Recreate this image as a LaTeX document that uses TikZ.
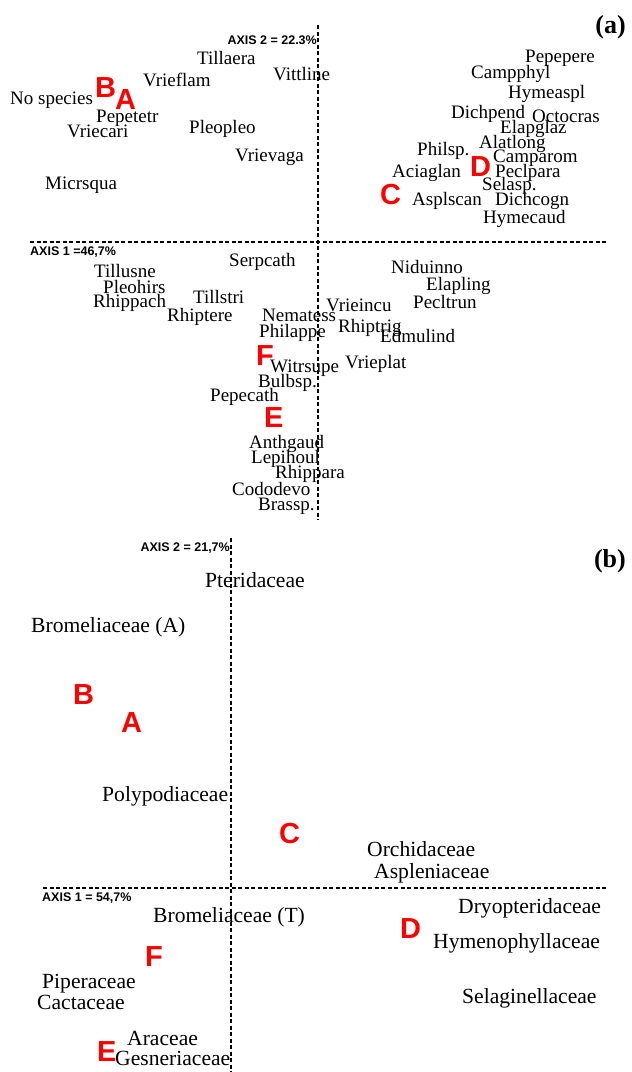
\documentclass[tikz,border=0pt]{standalone}
\usepackage{fontspec}
\setmainfont{Liberation Serif}
\setsansfont{Liberation Sans}
\begin{document}
\begin{tikzpicture}[x=1pt,y=-1pt,
  sp/.style={anchor=base west,inner sep=0pt,font=\fontsize{19}{19}\selectfont},
  fam/.style={anchor=base west,inner sep=0pt,font=\fontsize{21.6}{21.6}\selectfont},
  grp/.style={anchor=base west,inner sep=0pt,text=red,font=\sffamily\bfseries\fontsize{29}{29}\selectfont},
  axl/.style={inner sep=0pt,font=\sffamily\bfseries\fontsize{12.5}{12.5}\selectfont},
  axis/.style={draw=black,line width=1.3pt,dash pattern=on 4pt off 2.5pt},
  panel/.style={anchor=base east,inner sep=0pt,font=\bfseries\fontsize{26}{26}\selectfont}]
\useasboundingbox[fill=white] (0,0) rectangle (632,1072);
% ---------- panel (a) ----------
\coordinate (a1w) at (30,242);
\coordinate (a1e) at (608,242);
\coordinate (a2n) at (318,25);
\coordinate (a2s) at (318,520);
\draw[axis] (a1w) -- (a1e);
\draw[axis] (a2n) -- (a2s);
\node[axl,anchor=east] (ax2a) at (317,40) {AXIS 2 = 22.3\%};
\node[axl,anchor=west] (ax1a) at (30,252) {AXIS 1 =46,7\%};
\node[panel] (pa) at (626,33) {(a)};

\node[sp] (tillaera) at (197,64) {Tillaera};
\node[sp] (vittline) at (273,80) {Vittline};
\node[sp] (vrieflam) at (143,86) {Vrieflam};
\node[sp] (nosp) at (10,104) {No species};
\node[sp] (pepetetr) at (96,122) {Pepetetr};
\node[sp] (vriecari) at (67,137) {Vriecari};
\node[sp] (pleopleo) at (189,133) {Pleopleo};
\node[sp] (vrievaga) at (235,161) {Vrievaga};
\node[sp] (micrsqua) at (45,189) {Micrsqua};

\node[sp] (pepepere) at (525,62) {Pepepere};
\node[sp] (campphyl) at (471,78) {Campphyl};
\node[sp] (hymeaspl) at (508,98) {Hymeaspl};
\node[sp] (dichpend) at (451,118) {Dichpend};
\node[sp] (octocras) at (532,122) {Octocras};
\node[sp] (elapglaz) at (500,133) {Elapglaz};
\node[sp] (alatlong) at (479,148) {Alatlong};
\node[sp] (philsp) at (417,155) {Philsp.};
\node[sp] (camparom) at (493,162) {Camparom};
\node[sp] (aciaglan) at (392,177) {Aciaglan};
\node[sp] (peclpara) at (495,177) {Peclpara};
\node[sp] (selasp) at (482,190) {Selasp.};
\node[sp] (asplscan) at (412,205) {Asplscan};
\node[sp] (dichcogn) at (495,205) {Dichcogn};
\node[sp] (hymecaud) at (483,223) {Hymecaud};

\node[sp] (serpcath) at (229,266) {Serpcath};
\node[sp] (tillusne) at (94,277) {Tillusne};
\node[sp] (pleohirs) at (103,293) {Pleohirs};
\node[sp] (rhippach) at (93,307) {Rhippach};
\node[sp] (tillstri) at (193,303) {Tillstri};
\node[sp] (rhiptere) at (167,321) {Rhiptere};
\node[sp] (nematess) at (262,321) {Nematess};
\node[sp] (philappe) at (259,337) {Philappe};
\node[sp] (witrsupe) at (270,372) {Witrsupe};
\node[sp] (bulbsp) at (258,387) {Bulbsp.};
\node[sp] (pepecath) at (210,401) {Pepecath};
\node[sp] (anthgaud) at (249,448) {Anthgaud};
\node[sp] (lepihoul) at (251,463) {Lepihoul};
\node[sp] (rhippara) at (275,478) {Rhippara};
\node[sp] (cododevo) at (232,495) {Cododevo};
\node[sp] (brassp) at (258,510) {Brassp.};

\node[sp] (niduinno) at (391,273) {Niduinno};
\node[sp] (elapling) at (426,290) {Elapling};
\node[sp] (pecltrun) at (413,308) {Pecltrun};
\node[sp] (vrieincu) at (326,311) {Vrieincu};
\node[sp] (rhiptrig) at (338,332) {Rhiptrig};
\node[sp] (edmulind) at (380,342) {Edmulind};
\node[sp] (vrieplat) at (345,368) {Vrieplat};

\node[grp] (gBa) at (95,97) {B};
\node[grp] (gAa) at (115,109) {A};
\node[grp] (gDa) at (470,176) {D};
\node[grp] (gCa) at (380,204) {C};
\node[grp] (gFa) at (256,365) {F};
\node[grp] (gEa) at (264,427) {E};

% ---------- panel (b) ----------
\coordinate (b1w) at (43,888);
\coordinate (b1e) at (607,888);
\coordinate (b2n) at (231,538);
\coordinate (b2s) at (231,1072);
\draw[axis] (b1w) -- (b1e);
\draw[axis] (b2n) -- (b2s);
\node[axl,anchor=east] (ax2b) at (230,548) {AXIS 2 = 21,7\%};
\node[axl,anchor=west] (ax1b) at (42,898) {AXIS 1 = 54,7\%};
\node[panel] (pb) at (626,567) {(b)};

\node[fam] (pterid) at (205,587) {Pteridaceae};
\node[fam] (bromA) at (31,632) {Bromeliaceae (A)};
\node[fam] (polyp) at (102,801) {Polypodiaceae};
\node[fam] (orchid) at (367,856) {Orchidaceae};
\node[fam] (asplen) at (374,878) {Aspleniaceae};
\node[fam] (dryop) at (458,913) {Dryopteridaceae};
\node[fam] (bromT) at (153,922) {Bromeliaceae (T)};
\node[fam] (hymeno) at (433,948) {Hymenophyllaceae};
\node[fam] (piper) at (42,988) {Piperaceae};
\node[fam] (selag) at (462,1003) {Selaginellaceae};
\node[fam] (cact) at (37,1009) {Cactaceae};
\node[fam] (arac) at (127,1045) {Araceae};
\node[fam] (gesn) at (115,1065) {Gesneriaceae};

\node[grp] (gBb) at (73,704) {B};
\node[grp] (gAb) at (121,732) {A};
\node[grp] (gCb) at (279,843) {C};
\node[grp] (gDb) at (400,938) {D};
\node[grp] (gFb) at (145,966) {F};
\node[grp] (gEb) at (97,1061) {E};
\end{tikzpicture}
\end{document}
